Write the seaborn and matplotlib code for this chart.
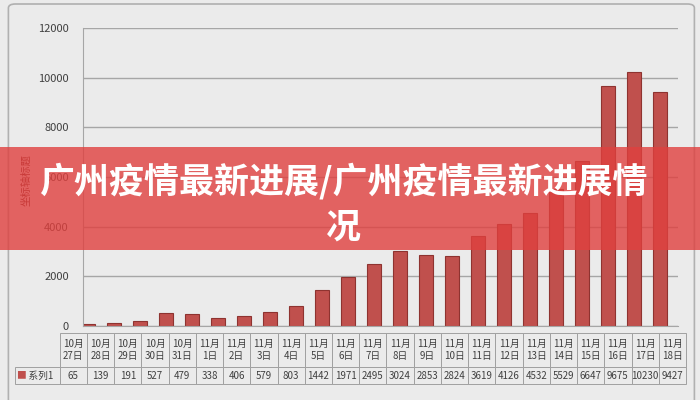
import matplotlib
matplotlib.use('Agg')
import matplotlib.pyplot as plt
import seaborn as sb
import pandas as pd
from matplotlib.patches import Rectangle, FancyBboxPatch

# Data
dates = ['10月\n27日', '10月\n28日', '10月\n29日', '10月\n30日', '10月\n31日',
         '11月\n1日', '11月\n2日', '11月\n3日', '11月\n4日', '11月\n5日',
         '11月\n6日', '11月\n7日', '11月\n8日', '11月\n9日', '11月\n10日',
         '11月\n11日', '11月\n12日', '11月\n13日', '11月\n14日', '11月\n15日',
         '11月\n16日', '11月\n17日', '11月\n18日']
cases = [65, 139, 191, 527, 479, 338, 406, 579, 803, 1442, 1971, 2495,
         3024, 2853, 2824, 3619, 4126, 4532, 5529, 6647, 9675, 10230, 9427]
series_name = '系列1'
y_ticks = [0, 2000, 4000, 6000, 8000, 10000, 12000]
banner_title = '广州疫情最新进展/广州疫情最新进展情\n况'
axis_title = '坐标轴标题'

df = pd.DataFrame({'date': dates, 'cases': cases})

sb.set_style('white')
plt.rcParams['font.family'] = ['Noto Sans CJK SC', 'DejaVu Sans']

BG = '#ebebeb'
BAR = '#c0504d'
GRID = '#a6a6a6'
TXT = '#404040'

fig = plt.figure(figsize=(7, 4), dpi=100, facecolor=BG)

# outer chart frame
fig.patches.append(FancyBboxPatch((0.012, -0.01), 0.98, 1.0, boxstyle='round,pad=0,rounding_size=0.01',
                                  transform=fig.transFigure, facecolor='none',
                                  edgecolor='#b0b0b0', linewidth=1.2))

###########################################################
#  Bars                                                   #
###########################################################
ax = fig.add_axes([0.118, 0.185, 0.851, 0.745])
ax.set_facecolor(BG)
sb.barplot(data=df, x='date', y='cases', color=BAR, width=0.55,
           edgecolor='#8e3330', linewidth=0.8, saturation=1, ax=ax)
ax.set_ylim(0, 12000)
ax.set_xlim(-0.2, len(dates) - 0.3)
ax.set_yticks(y_ticks)
ax.set_yticklabels([str(t) for t in y_ticks], fontsize=8, color=TXT)
ax.set_xticks([])
ax.set_xlabel('')
ax.set_ylabel('')
ax.yaxis.grid(True, color=GRID, linewidth=1.0)
ax.set_axisbelow(True)
for side in ['top', 'right']:
    ax.spines[side].set_visible(False)
ax.spines['left'].set_color(GRID)
ax.spines['bottom'].set_color(GRID)
ax.tick_params(axis='y', length=0, pad=10)

fig.text(0.038, 0.55, axis_title, rotation=90, fontsize=7.5, color='#6b2020',
         ha='center', va='center')

###########################################################
#  Data table                                             #
###########################################################
tax = fig.add_axes([0.021, 0.04, 0.959, 0.128])
tax.axis('off')
cell_text = [[''] + dates, ['   ' + series_name] + [str(v) for v in cases]]
first_w = 45 / 671
col_w = (1 - first_w) / len(dates)
tbl = tax.table(cellText=cell_text, colWidths=[first_w] + [col_w] * len(dates),
                cellLoc='center', bbox=[0, 0, 1, 1])
tbl.auto_set_font_size(False)
for (r, c), cell in tbl.get_celld().items():
    cell.set_facecolor(BG)
    cell.set_edgecolor('#a0a0a0')
    cell.set_linewidth(0.7)
    cell.get_text().set_fontsize(7)
    cell.get_text().set_color(TXT)
    cell.set_height(0.67 if r == 0 else 0.33)
    if r == 1:
        cell.set_y(0)
    else:
        cell.set_y(0.33)
    if r == 0 and c == 0:
        cell.visible_edges = ''
tax.text(first_w * 0.14, 0.165, '■', color=BAR, fontsize=7, ha='center', va='center',
         transform=tax.transAxes)

###########################################################
#  Banner overlay                                         #
###########################################################
fig.patches.append(Rectangle((0, 0.375), 1, 0.257, transform=fig.transFigure,
                             facecolor='#e0403e', alpha=0.8, edgecolor='none', zorder=10))
fig.text(0.49, 0.49, banner_title, ha='center', va='center', color='white',
         fontsize=25.2, fontweight='heavy', linespacing=1.35, zorder=11)

fig.savefig('out.png', dpi=100, facecolor=BG)
